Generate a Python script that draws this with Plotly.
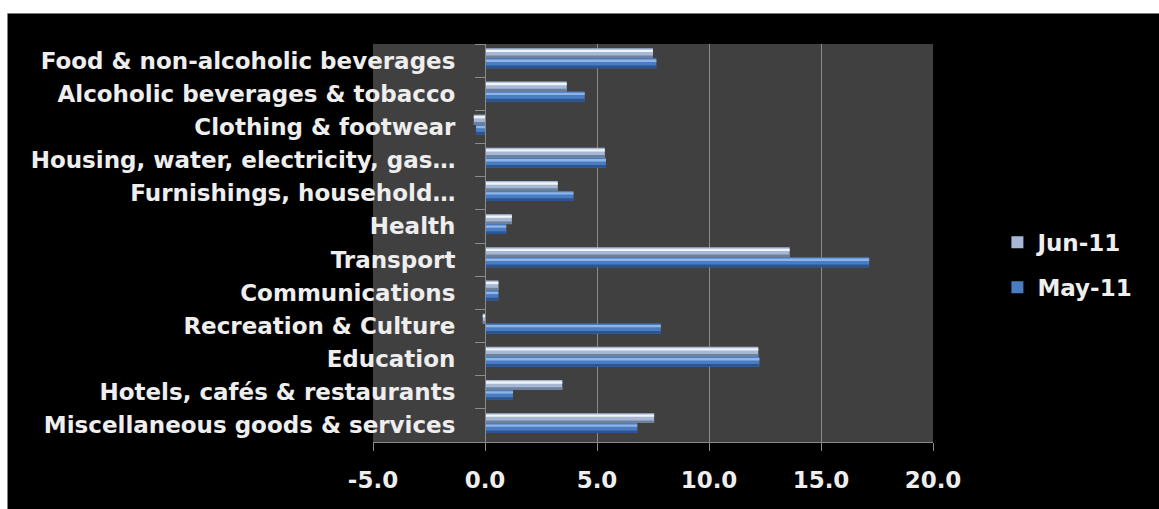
import plotly.graph_objects as go

categories = [
    "Food & non-alcoholic beverages",
    "Alcoholic beverages & tobacco",
    "Clothing & footwear",
    "Housing, water, electricity, gas…",
    "Furnishings, household…",
    "Health",
    "Transport",
    "Communications",
    "Recreation & Culture",
    "Education",
    "Hotels, cafés & restaurants",
    "Miscellaneous goods & services",
]
jun_11 = [7.5, 3.65, -0.5, 5.35, 3.25, 1.2, 13.6, 0.6, -0.1, 12.2, 3.45, 7.55]
may_11 = [7.65, 4.45, -0.4, 5.4, 3.95, 0.95, 17.15, 0.6, 7.85, 12.25, 1.25, 6.8]
x_ticks = [-5, 0, 5, 10, 15, 20]
x_tick_labels = ["-5.0", "0.0", "5.0", "10.0", "15.0", "20.0"]

FONT = "DejaVu Sans"
TXT = "#eeeeee"
W, H = 1159, 509
L, R, T, B = 373, W - 933, 44, H - 442

fig = go.Figure()

def add_series(name, vals, off, base, hi, shade, group):
    fig.add_trace(go.Bar(
        name=name, y=categories, x=vals, orientation="h",
        offset=off, width=0.30, marker=dict(color=base, line=dict(width=0)),
        legendgroup=group, showlegend=True,
    ))
    fig.add_trace(go.Bar(
        y=categories, x=vals, orientation="h",
        offset=off + 0.22, width=0.08, marker=dict(color=shade, line=dict(width=0)),
        legendgroup=group, showlegend=False, hoverinfo="skip",
    ))
    fig.add_trace(go.Bar(
        y=categories, x=vals, orientation="h",
        offset=off + 0.04, width=0.07, marker=dict(color=hi, line=dict(width=0)),
        legendgroup=group, showlegend=False, hoverinfo="skip",
    ))

add_series("Jun-11", jun_11, -0.37, "#a6b8d4", "#eef4fc", "#6f809a", "g1")
add_series("May-11", may_11, -0.07, "#4a7cc2", "#8fb5e8", "#2b5592", "g2")

tick_font = dict(family=FONT, size=23, color=TXT, weight="bold")

fig.update_layout(
    width=W, height=H,
    margin=dict(l=L, r=R, t=T, b=B, pad=0),
    paper_bgcolor="#000000",
    plot_bgcolor="#404040",
    barmode="overlay",
    font=dict(family=FONT, size=23, color=TXT),
    showlegend=True,
    legend=dict(
        x=1.115, y=0.445, xanchor="left", yanchor="middle",
        bgcolor="rgba(0,0,0,0)", traceorder="grouped", tracegroupgap=12,
        font=tick_font,
    ),
    xaxis=dict(
        range=[-5, 20], tickvals=x_ticks, ticktext=x_tick_labels,
        showgrid=True, gridcolor="#8a8a8a", gridwidth=1,
        zeroline=False, showline=True, linecolor="#8a8a8a", linewidth=1,
        ticks="outside", ticklen=8, tickcolor="#8a8a8a",
        tickfont=tick_font,
        ticklabelstandoff=9,
        fixedrange=True,
    ),
    yaxis=dict(
        autorange="reversed", anchor="free", position=0.2,
        showgrid=False, showline=True, linecolor="#8a8a8a", linewidth=1,
        ticks="outside", ticklen=10, tickcolor="#8a8a8a", tickson="boundaries",
        tickfont=tick_font,
        ticklabelstandoff=25,
        fixedrange=True,
    ),
    shapes=[
        dict(type="rect", xref="paper", yref="paper",
             x0=(0 - L) / 560, x1=(W - L) / 560 + 0.1,
             y0=(442 - 13.5) / 398, y1=(442 + 10) / 398,
             fillcolor="#ffffff", line=dict(width=0), layer="above"),
        dict(type="rect", xref="paper", yref="paper",
             x0=(0 - L) / 560 - 0.1, x1=(7.5 - L) / 560,
             y0=-0.3, y1=(442 + 10) / 398,
             fillcolor="#ffffff", line=dict(width=0), layer="above"),
        dict(type="line", xref="paper", yref="paper",
             x0=(7.5 - L) / 560, x1=(W - L) / 560 + 0.1,
             y0=(442 - 13.5) / 398, y1=(442 - 13.5) / 398,
             line=dict(color="#7a7a7a", width=1), layer="above"),
    ],
)

fig.write_html(
    "out.html",
    config={"displayModeBar": False},
    post_script="document.body.style.margin='0';document.body.style.padding='0';",
)
